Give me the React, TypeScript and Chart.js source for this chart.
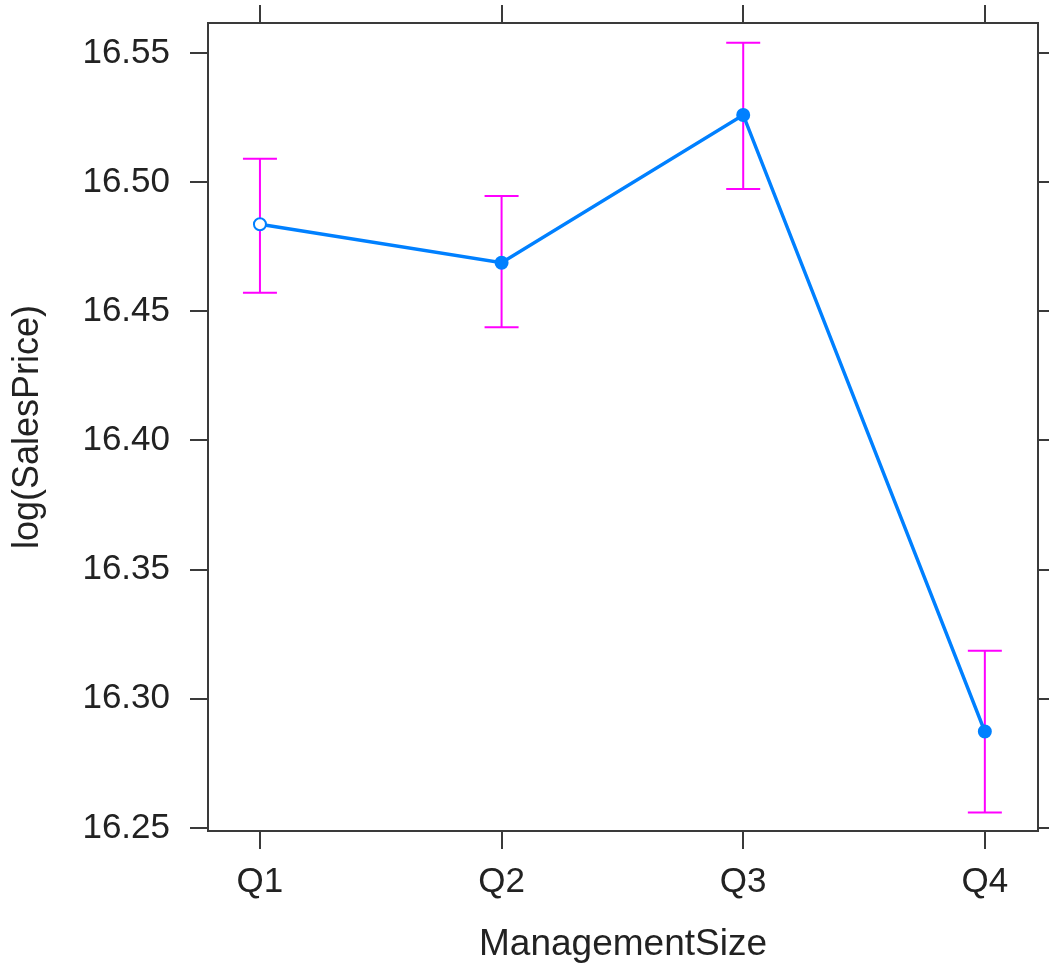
import React, { useEffect, useRef } from "react";
import { Chart, registerables } from "chart.js";

Chart.register(...registerables);

const categories = ["Q1", "Q2", "Q3", "Q4"];
const means = [16.4837, 16.4688, 16.526, 16.2873];
const lowerBounds = [16.4572, 16.4438, 16.4973, 16.256];
const upperBounds = [16.509, 16.4946, 16.554, 16.3186];
const yTicks = [16.25, 16.3, 16.35, 16.4, 16.45, 16.5, 16.55];
const xRange = [0.785, 4.22];
const yRange = [16.2488, 16.5616];

const FONT = "'Liberation Sans', Arial, sans-serif";
const TEXT = "#222222";
const AXIS = "#3a3a3a";

const errorBarPlugin = {
  id: "errorBars",
  beforeDatasetsDraw(chart: any) {
    const { ctx, scales } = chart;
    const xs = scales.x;
    const ys = scales.y;
    ctx.save();
    ctx.strokeStyle = "#FF00FF";
    ctx.lineWidth = 2;
    const cap = 17;
    for (let i = 0; i < categories.length; i++) {
      const px = xs.getPixelForValue(i + 1);
      const top = ys.getPixelForValue(upperBounds[i]);
      const bot = ys.getPixelForValue(lowerBounds[i]);
      ctx.beginPath();
      ctx.moveTo(px, top);
      ctx.lineTo(px, bot);
      ctx.moveTo(px - cap, top);
      ctx.lineTo(px + cap, top);
      ctx.moveTo(px - cap, bot);
      ctx.lineTo(px + cap, bot);
      ctx.stroke();
    }
    ctx.restore();
  },
};

export default function App() {
  const ref = useRef<HTMLCanvasElement | null>(null);
  useEffect(() => {
    if (!ref.current) return;
    const setX = (axis: any) => {
      axis.ticks = categories.map((_, i) => ({ value: i + 1 }));
    };
    const setY = (axis: any) => {
      axis.ticks = yTicks.map((v) => ({ value: v }));
    };
    const fitTo = (dim: "width" | "height", size: number) => (s: any) => {
      s[dim] = size;
      s.paddingTop = 0;
      s.paddingBottom = 0;
      s.paddingLeft = 0;
      s.paddingRight = 0;
    };
    const grid = {
      drawOnChartArea: false,
      drawTicks: true,
      tickLength: 18,
      color: AXIS,
      lineWidth: 2,
    };
    const border = { display: true, color: AXIS, width: 2 };
    const chart = new Chart(ref.current, {
      type: "line",
      data: {
        datasets: [
          {
            data: means.map((m, i) => ({ x: i + 1, y: m })),
            borderColor: "#0080FF",
            borderWidth: 3.5,
            pointRadius: 6,
            pointBorderWidth: 2,
            pointBorderColor: "#0080FF",
            pointBackgroundColor: ["#ffffff", "#0080FF", "#0080FF", "#0080FF"],
            tension: 0,
            fill: false,
          },
        ],
      },
      plugins: [errorBarPlugin],
      options: {
        animation: false,
        responsive: false,
        devicePixelRatio: 1,
        layout: { padding: 0 },
        plugins: {
          legend: { display: false },
          tooltip: { enabled: false },
        },
        scales: {
          x: {
            type: "linear",
            position: "bottom",
            min: xRange[0],
            max: xRange[1],
            afterBuildTicks: setX,
            afterFit: fitTo("height", 140),
            grid,
            border,
            ticks: {
              padding: 12,
              color: TEXT,
              font: { family: FONT, size: 35 },
              callback: (v: any) => categories[Math.round(v) - 1] ?? "",
            },
            title: {
              display: true,
              text: "ManagementSize",
              color: TEXT,
              font: { family: FONT, size: 37 },
              padding: { top: 0, bottom: 4 },
            },
          },
          x2: {
            type: "linear",
            position: "top",
            min: xRange[0],
            max: xRange[1],
            afterBuildTicks: setX,
            afterFit: fitTo("height", 23),
            grid,
            border,
            ticks: { display: false },
          },
          y: {
            type: "linear",
            position: "left",
            min: yRange[0],
            max: yRange[1],
            afterBuildTicks: setY,
            afterFit: fitTo("width", 208),
            grid,
            border,
            ticks: {
              padding: 20,
              color: TEXT,
              font: { family: FONT, size: 35 },
              callback: (v: any) => Number(v).toFixed(2),
            },
            title: {
              display: true,
              text: "log(SalesPrice)",
              color: TEXT,
              font: { family: FONT, size: 36 },
              padding: { top: 6, bottom: 0 },
            },
          },
          y2: {
            type: "linear",
            position: "right",
            min: yRange[0],
            max: yRange[1],
            afterBuildTicks: setY,
            afterFit: fitTo("width", 11),
            grid,
            border,
            ticks: { display: false },
          },
        },
      },
    } as any);
    return () => chart.destroy();
  }, []);
  return (
    <div style={{ position: "fixed", left: 0, top: 0, width: 1049, height: 971, background: "#fff" }}>
      <canvas ref={ref} width={1049} height={971} />
    </div>
  );
}
